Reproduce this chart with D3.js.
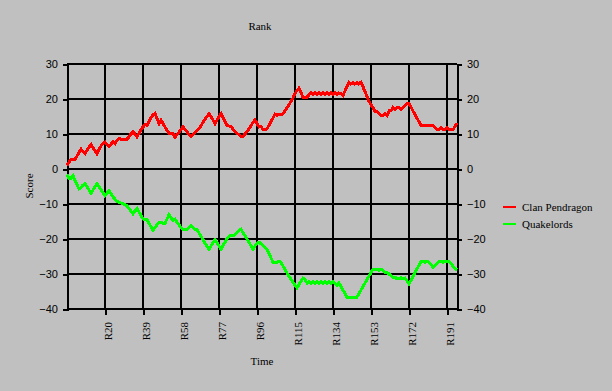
<!DOCTYPE html>
<html>
<head>
<meta charset="utf-8">
<script src="https://cdn.jsdelivr.net/npm/d3@7/dist/d3.min.js"></script>
<style>
  html, body { margin: 0; padding: 0; background: #c0c0c0; }
  svg { display: block; }
</style>
</head>
<body>
<svg id="chart" width="612" height="391"></svg>
<script>
// ---- Data ----
const title = "Rank";
const xTitle = "Time";
const yTitle = "Score";
const seriesNames = ["Clan Pendragon", "Quakelords"];
const seriesColors = ["#ff0000", "#00ff00"];
const roundCount = 196;
const xTickRounds = [20, 39, 58, 77, 96, 115, 134, 153, 172, 191];
const xTickLabels = ["R20", "R39", "R58", "R77", "R96", "R115", "R134", "R153", "R172", "R191"];
const yTicks = [30, 20, 10, 0, -10, -20, -30, -40];

const clanPendragon = [
  1.0, 2.0, 2.7, 2.7, 2.7, 3.7, 4.7, 5.7, 5.0, 4.4,
  5.3, 6.2, 7.0, 6.1, 5.2, 4.4, 5.5, 6.6, 7.3, 7.7,
  7.0, 6.5, 7.1, 7.7, 7.2, 8.2, 8.7, 8.5, 8.5, 8.5,
  8.5, 9.2, 10.0, 10.7, 10.0, 9.2, 10.2, 11.2, 12.0, 12.7,
  12.5, 13.6, 14.7, 15.5, 15.9, 14.5, 13.0, 14.0, 13.0, 12.0,
  11.0, 10.2, 10.2, 10.1, 9.1, 9.8, 10.5, 11.3, 12.0, 11.3,
  10.6, 9.9, 9.3, 9.9, 10.5, 11.0, 11.5, 12.4, 13.3, 14.2,
  15.0, 15.8, 15.0, 14.0, 13.0, 14.0, 15.0, 15.8, 14.7, 13.6,
  12.5, 12.3, 12.2, 11.4, 10.6, 10.2, 9.8, 9.3, 9.3, 10.0,
  10.7, 11.5, 12.4, 13.3, 14.0, 13.0, 12.0, 12.2, 11.2, 11.3,
  11.5, 12.5, 13.5, 14.6, 15.7, 15.4, 15.7, 15.5, 15.7, 16.6,
  17.5, 18.4, 19.3, 20.3, 21.5, 22.5, 23.1, 21.8, 20.5, 20.5,
  20.5, 21.2, 21.7, 21.2, 21.7, 21.2, 21.7, 21.2, 21.7, 21.2,
  21.7, 21.2, 21.7, 21.2, 21.7, 21.2, 21.7, 21.5, 21.0, 22.3,
  23.6, 24.8, 24.3, 24.8, 24.3, 24.8, 24.3, 24.8, 23.5, 22.1,
  20.7, 19.3, 18.4, 17.5, 16.5, 16.5, 15.8, 15.2, 15.2, 15.8,
  15.2, 16.6, 16.6, 17.6, 17.0, 17.6, 17.6, 17.0, 17.6, 18.2,
  18.8, 18.8, 17.7, 16.6, 15.5, 14.5, 13.5, 12.5, 12.5, 12.5,
  12.5, 12.5, 12.5, 12.5, 11.8, 11.2, 11.2, 11.8, 11.2, 11.2,
  11.8, 11.2, 11.2, 11.2, 12.2, 13.1
];

const quakelords = [
  -1.6, -2.6, -2.6, -1.9, -3.2, -4.5, -5.7, -5.2, -4.6, -4.2,
  -5.1, -6.0, -6.9, -6.0, -5.0, -4.2, -5.0, -5.9, -6.8, -7.6,
  -6.9, -6.2, -7.1, -8.0, -8.6, -9.2, -9.5, -9.7, -9.9, -10.2,
  -10.5, -11.3, -12.1, -12.8, -12.0, -11.3, -12.3, -13.3, -14.3, -14.4,
  -14.5, -15.5, -16.5, -17.5, -16.7, -16.0, -15.2, -15.2, -15.5, -15.5,
  -14.3, -13.1, -13.9, -14.7, -14.3, -15.2, -16.0, -16.7, -17.3, -17.3,
  -17.3, -16.7, -16.1, -16.7, -17.3, -17.3, -18.3, -19.2, -20.2, -21.2,
  -22.1, -22.9, -22.0, -21.1, -20.2, -21.1, -22.0, -22.9, -21.9, -20.9,
  -19.9, -19.2, -19.0, -19.0, -18.8, -18.1, -17.5, -17.2, -18.2, -19.1,
  -20.0, -20.9, -21.9, -22.9, -22.0, -21.2, -20.9, -21.4, -21.9, -22.5,
  -23.0, -24.2, -25.4, -26.7, -26.7, -26.7, -26.4, -26.7, -27.7, -28.7,
  -29.7, -30.7, -31.5, -32.3, -33.2, -34.0, -33.0, -32.1, -31.2, -31.5,
  -32.6, -32.2, -32.6, -32.2, -32.6, -32.2, -32.6, -32.2, -32.6, -32.2,
  -32.6, -32.2, -32.6, -32.2, -32.6, -33.2, -32.6, -33.6, -34.6, -35.6,
  -36.6, -36.6, -36.6, -36.6, -36.6, -36.6, -35.6, -34.6, -33.6, -32.6,
  -31.6, -30.6, -29.6, -28.6, -28.6, -28.6, -28.9, -28.6, -29.0, -29.5,
  -29.5, -30.0, -30.5, -30.9, -30.9, -31.4, -31.4, -31.0, -31.4, -31.2,
  -32.0, -32.8, -31.8, -30.7, -29.6, -28.5, -27.5, -26.4, -26.4, -26.7,
  -26.4, -26.7, -27.3, -28.0, -27.5, -26.9, -26.4, -26.4, -26.7, -26.4,
  -26.4, -26.4, -27.0, -27.8, -28.5, -28.8
];

const allSeries = [clanPendragon, quakelords];

// ---- Layout ----
const svg = d3.select("#chart");
const W = 612, H = 391;
const plot = { left: 67, right: 457, top: 64, bottom: 309 };
const serif = "'Liberation Serif', 'Times New Roman', serif";
const sans = "'Liberation Sans', Arial, sans-serif";
const gridW = 2;

svg.append("rect").attr("width", W).attr("height", H).attr("fill", "#c0c0c0");

const x = d3.scaleLinear().domain([1, roundCount]).range([plot.left, plot.right]);
const y = d3.scaleLinear().domain([-40, 30]).range([plot.bottom, plot.top]);

const rounds = d3.range(1, roundCount + 1);

// Left / right axes
const gLeft = svg.append("g").attr("transform", `translate(${plot.left},0)`)
  .call(d3.axisLeft(y).tickValues(yTicks).tickSize(4).tickPadding(5).tickFormat(d3.format("d")));
const gRight = svg.append("g").attr("transform", `translate(${plot.right},0)`)
  .call(d3.axisRight(y).tickValues(yTicks).tickSize(5).tickPadding(5).tickFormat(d3.format("d")));
[gLeft, gRight].forEach(g => {
  g.select(".domain").attr("stroke", "#000").attr("stroke-width", gridW);
  g.selectAll(".tick line").attr("stroke", "#000").attr("stroke-width", gridW);
  g.selectAll(".tick text").attr("font-family", sans).attr("font-size", 11).attr("fill", "#000");
  g.selectAll("path,line").attr("shape-rendering", "crispEdges");
});

// horizontal gridlines
svg.append("g").selectAll("line").data(yTicks).join("line")
  .attr("x1", plot.left).attr("x2", plot.right)
  .attr("y1", d => Math.round(y(d))).attr("y2", d => Math.round(y(d)))
  .attr("stroke", "#000").attr("stroke-width", gridW).attr("shape-rendering", "crispEdges");

// vertical gridlines with tick marks below
const gX = svg.append("g").attr("transform", `translate(0,${plot.bottom})`)
  .call(d3.axisBottom(x).tickValues(xTickRounds).tickSize(6).tickFormat((d, i) => xTickLabels[i]));
gX.select(".domain").remove();
gX.selectAll(".tick line").attr("stroke", "#000").attr("stroke-width", gridW).attr("shape-rendering", "crispEdges");
gX.selectAll(".tick text")
  .attr("font-family", serif).attr("font-size", 11).attr("fill", "#000")
  .attr("transform", "rotate(-90)")
  .attr("text-anchor", "end")
  .attr("x", -13).attr("y", 3).attr("dy", "0.35em");

svg.append("g").selectAll("line").data(xTickRounds).join("line")
  .attr("x1", d => Math.round(x(d))).attr("x2", d => Math.round(x(d)))
  .attr("y1", plot.top).attr("y2", plot.bottom)
  .attr("stroke", "#000").attr("stroke-width", gridW).attr("shape-rendering", "crispEdges");

// Series lines
const line = d3.line().x((d, i) => x(rounds[i])).y(d => y(d));
svg.append("g").selectAll("path").data(allSeries).join("path")
  .attr("d", d => line(d))
  .attr("fill", "none")
  .attr("stroke", (d, i) => seriesColors[i])
  .attr("stroke-width", 3)
  .attr("stroke-linejoin", "miter")
  .attr("shape-rendering", "crispEdges");

// Titles
svg.append("text").attr("x", 260).attr("y", 30).attr("text-anchor", "middle")
  .attr("font-family", serif).attr("font-size", 11).text(title);
svg.append("text").attr("x", 262).attr("y", 365).attr("text-anchor", "middle")
  .attr("font-family", serif).attr("font-size", 11).text(xTitle);
svg.append("text").attr("transform", "translate(33,186) rotate(-90)").attr("text-anchor", "middle")
  .attr("font-family", serif).attr("font-size", 11).text(yTitle);

// Legend
const legend = svg.append("g").selectAll("g").data(seriesNames).join("g")
  .attr("transform", (d, i) => `translate(503,${207 + i * 17})`);
legend.append("line").attr("x1", 0).attr("x2", 13).attr("y1", 0).attr("y2", 0)
  .attr("stroke", (d, i) => seriesColors[i]).attr("stroke-width", 2).attr("shape-rendering", "crispEdges");
legend.append("text").attr("x", 19).attr("y", 0).attr("dy", "0.35em")
  .attr("font-family", serif).attr("font-size", 11).text(d => d);
</script>
</body>
</html>
